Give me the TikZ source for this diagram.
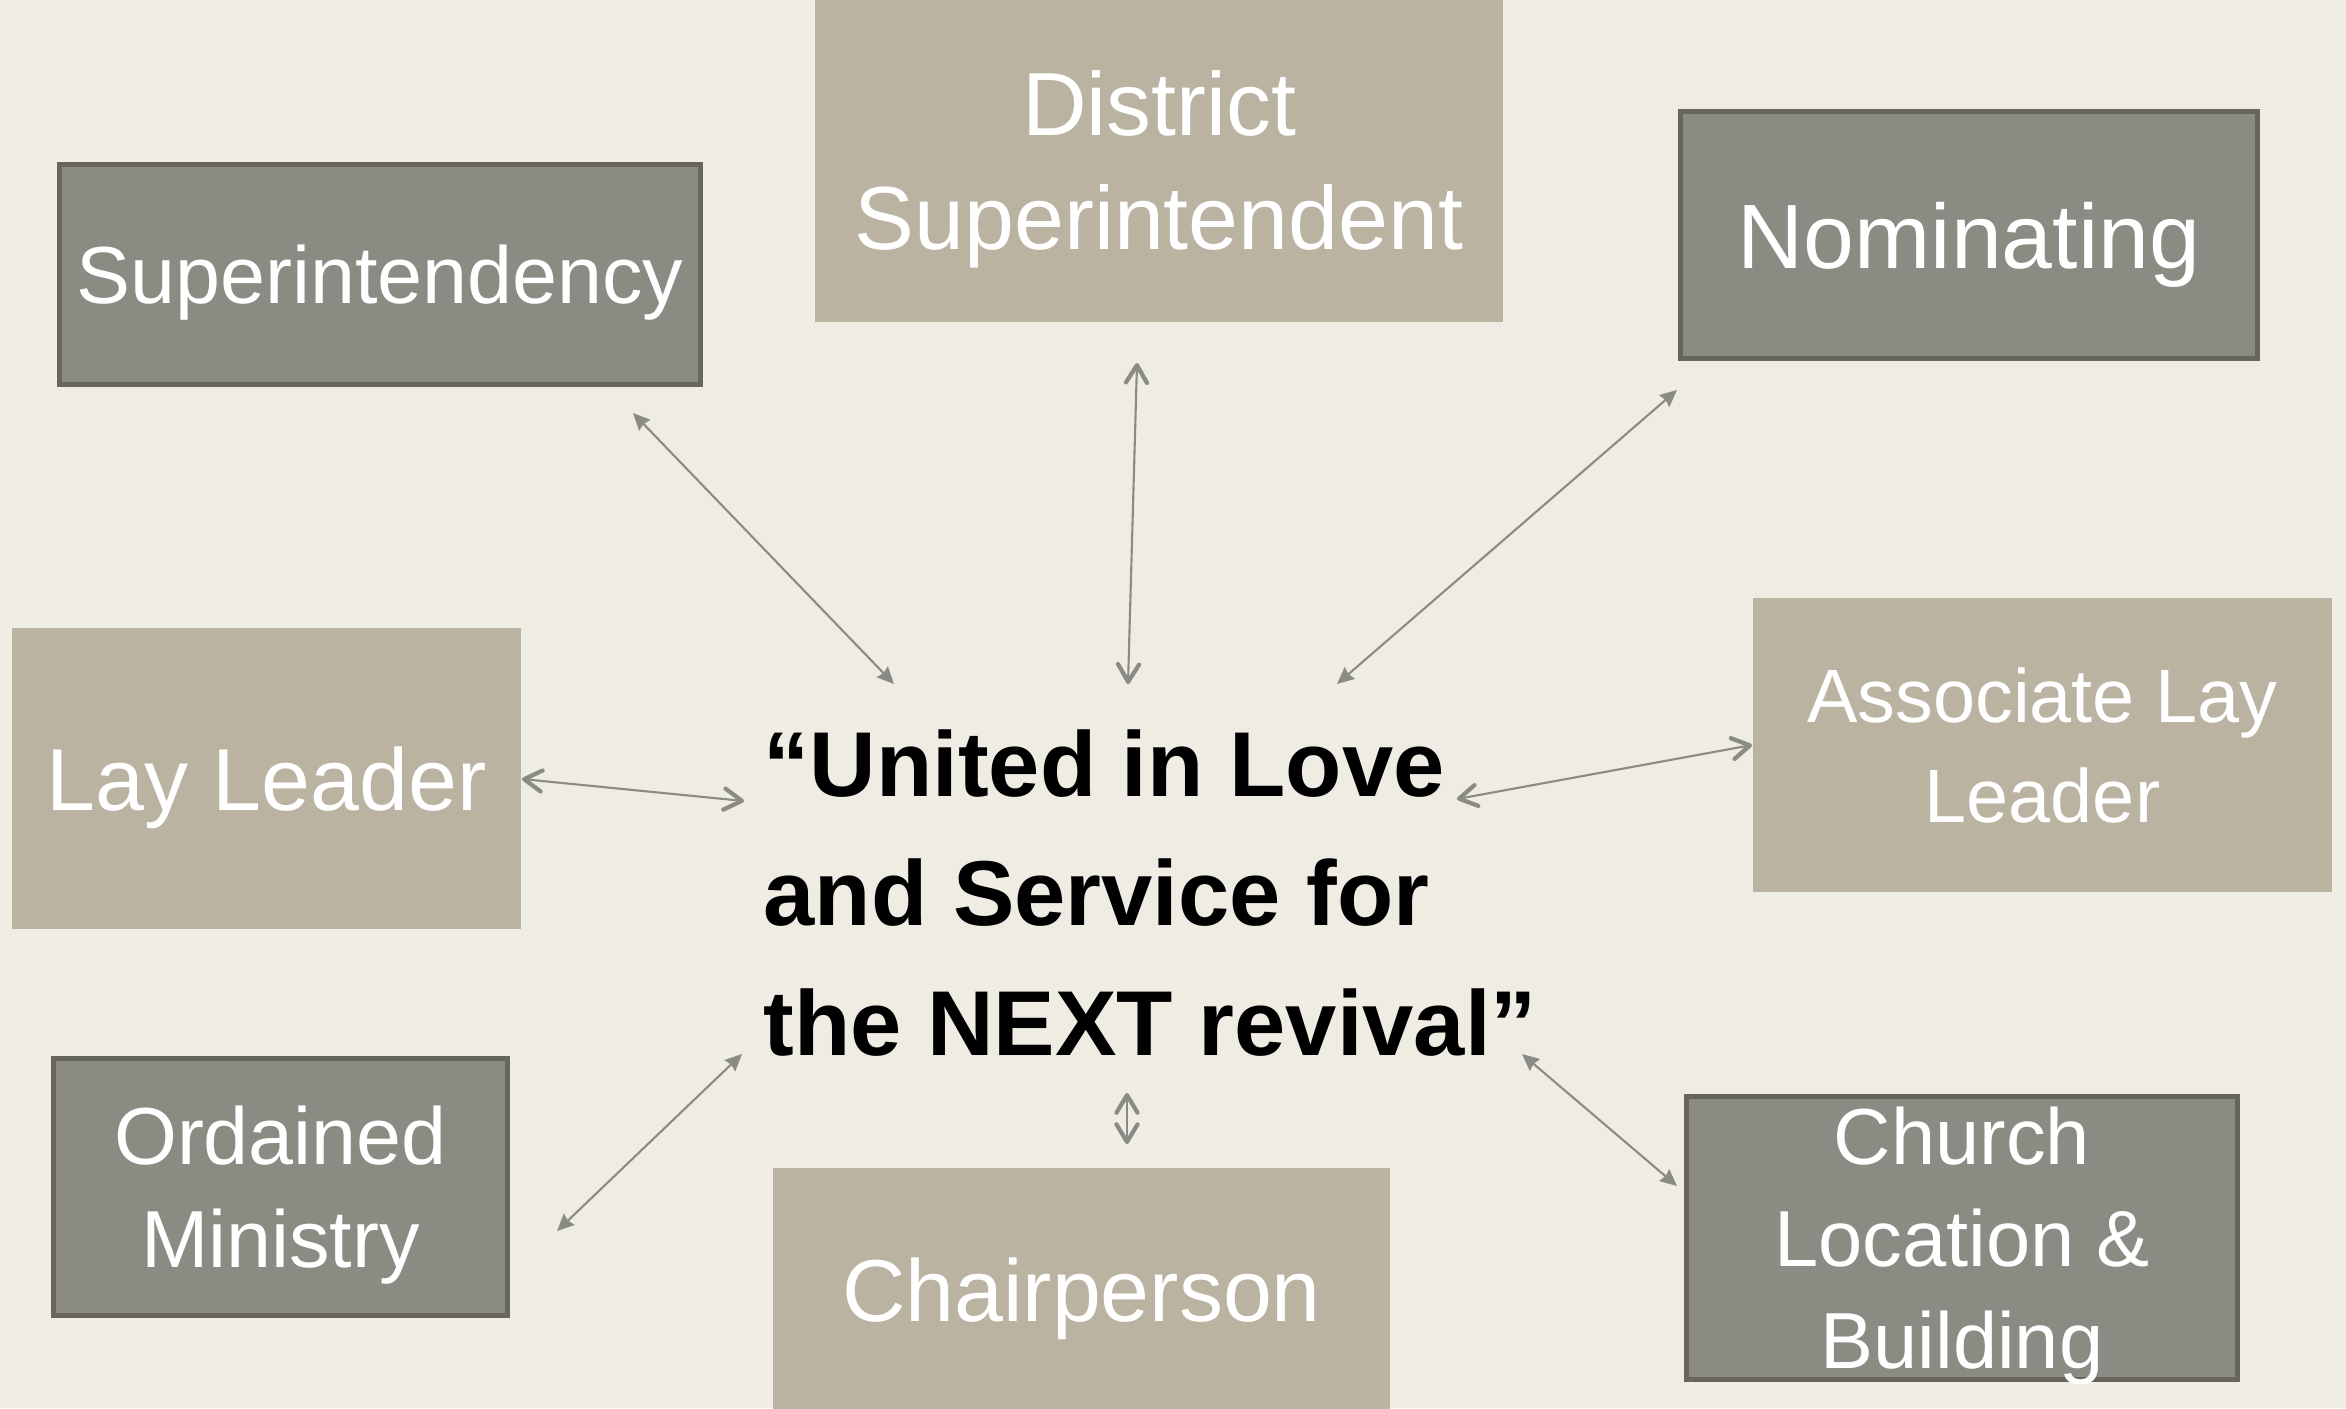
\documentclass[tikz,border=0pt]{standalone}
\usepackage{fontspec}
\setmainfont{Liberation Sans}
\usepackage{tikz}
\usetikzlibrary{arrows.meta}
\usepackage{xcolor}
\definecolor{slidebg}{HTML}{EFECE4}
\definecolor{sand}{HTML}{BBB3A1}
\definecolor{stone}{HTML}{8B8B84}
\definecolor{stoneedge}{HTML}{66665F}
\definecolor{linkgrey}{HTML}{8A8B84}

\begin{document}
\begin{tikzpicture}[x=0.01cm, y=-0.01cm,
	sandbox/.style={fill=sand, text=white, inner sep=0pt, align=center, text depth=0pt},
	stonebox/.style={fill=stone, draw=stoneedge, line width=1.4pt, text=white, inner sep=0pt, align=center, text depth=0pt},
	openlink/.style={draw=linkgrey, line width=0.6pt, {Straight Barb[round,length=5pt,width=6pt,line width=1.2pt]}-{Straight Barb[round,length=5pt,width=6pt,line width=1.2pt]}},
	filllink/.style={draw=linkgrey, line width=0.6pt, {Stealth[length=4.8pt,width=4.4pt,inset=0.5pt]}-{Stealth[length=4.8pt,width=4.4pt,inset=0.5pt]}}]
	\fill[slidebg] (0,0) rectangle (2346,1408);
	\useasboundingbox (0,0) rectangle (2346,1408);
	% boxes round the motto
	\node[stonebox, minimum width=6.41cm, minimum height=2.20cm, font=\fontsize{23}{29}\selectfont] (supt) at (380,274.5) {Superintendency};
	\node[sandbox, minimum width=6.88cm, minimum height=3.24cm, font=\fontsize{25.5}{32.6}\selectfont] (dsupt) at (1159,160) {District\\Superintendent};
	\node[stonebox, minimum width=5.77cm, minimum height=2.47cm, font=\fontsize{26}{32}\selectfont] (nomin) at (1969,235) {Nominating};
	\node[sandbox, minimum width=5.09cm, minimum height=3.01cm, font=\fontsize{25}{31}\selectfont] (layld) at (266.5,778.5) {Lay Leader};
	\node[sandbox, minimum width=5.79cm, minimum height=2.94cm, font=\fontsize{21.5}{28.6}\selectfont] (assoc) at (2042.5,745) {Associate Lay\\Leader};
	\node[stonebox, minimum width=4.54cm, minimum height=2.57cm, font=\fontsize{23}{29.2}\selectfont] (ordmin) at (280.5,1187) {Ordained\\Ministry};
	\node[sandbox, minimum width=6.17cm, minimum height=2.44cm, font=\fontsize{25}{31}\selectfont] (chair) at (1081.5,1290) {Chairperson};
	\node[stonebox, minimum width=5.51cm, minimum height=2.83cm, font=\fontsize{22.6}{29}\selectfont] (church) at (1962,1238) {Church\\Location \&\\Building};
	\node[anchor=north west, inner sep=0pt, align=left, font=\bfseries\fontsize{26.2}{36.8}\selectfont] (motto) at (763,729) {“United in Love\\and Service for\\the NEXT revival”};
	% arrow ends
	\coordinate (supt-a) at (633,413);
	\coordinate (supt-b) at (894,684);
	\coordinate (dsupt-a) at (1137,363);
	\coordinate (dsupt-b) at (1128,684);
	\coordinate (nomin-a) at (1677,390);
	\coordinate (nomin-b) at (1337,684);
	\coordinate (layld-a) at (522,779);
	\coordinate (layld-b) at (744,801);
	\coordinate (assoc-a) at (1752,745);
	\coordinate (assoc-b) at (1457,799);
	\coordinate (ordmin-a) at (557,1231);
	\coordinate (ordmin-b) at (742,1054);
	\coordinate (chair-a) at (1127,1093);
	\coordinate (chair-b) at (1127,1144);
	\coordinate (church-a) at (1522,1054);
	\coordinate (church-b) at (1677,1186);
	\draw[filllink] (supt-a) -- (supt-b);
	\draw[openlink] (dsupt-a) -- (dsupt-b);
	\draw[filllink] (nomin-a) -- (nomin-b);
	\draw[openlink] (layld-a) -- (layld-b);
	\draw[openlink] (assoc-a) -- (assoc-b);
	\draw[filllink] (ordmin-a) -- (ordmin-b);
	\draw[openlink] (chair-a) -- (chair-b);
	\draw[filllink] (church-a) -- (church-b);
\end{tikzpicture}
\end{document}
